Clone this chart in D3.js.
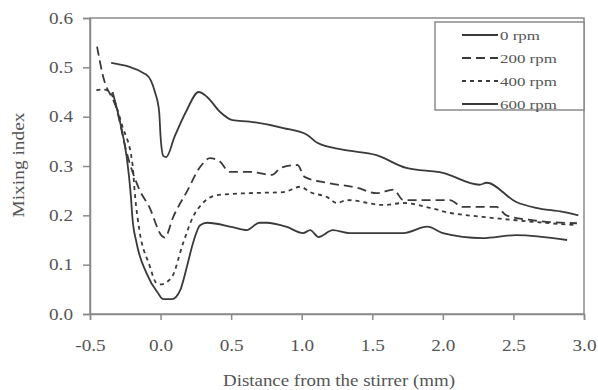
<!DOCTYPE html>
<html><head><meta charset="utf-8">
<script src="https://cdn.jsdelivr.net/npm/d3@7"></script>
<style>body{margin:0;background:#fff}</style>
</head><body>
<svg id="c" width="598" height="390"></svg>
<script>
const seriesNames = ["0 rpm", "200 rpm", "400 rpm", "600 rpm"];
const rpm0 = [[-0.35,0.509],[-0.10,0.485],[-0.04,0.45],[-0.01,0.41],[0.0,0.36],[0.02,0.32],[0.04,0.318],[0.10,0.36],[0.18,0.41],[0.27,0.45],[0.33,0.44],[0.42,0.41],[0.51,0.393],[0.63,0.39],[0.87,0.377],[1.04,0.363],[1.11,0.347],[1.29,0.333],[1.53,0.322],[1.74,0.296],[2.0,0.286],[2.26,0.262],[2.31,0.266],[2.52,0.227],[2.66,0.215],[2.85,0.207],[2.96,0.20]];
const rpm200 = [[-0.45,0.542],[-0.41,0.485],[-0.31,0.414],[-0.24,0.327],[-0.15,0.252],[-0.08,0.217],[0.01,0.158],[0.03,0.155],[0.09,0.197],[0.19,0.25],[0.28,0.298],[0.35,0.316],[0.42,0.309],[0.49,0.288],[0.63,0.288],[0.79,0.282],[0.85,0.296],[0.97,0.302],[1.02,0.278],[1.18,0.266],[1.39,0.256],[1.53,0.245],[1.65,0.252],[1.72,0.231],[1.91,0.231],[2.05,0.231],[2.14,0.217],[2.28,0.217],[2.38,0.217],[2.45,0.20],[2.64,0.19],[2.95,0.184]];
const rpm400 = [[-0.455,0.454],[-0.40,0.455],[-0.36,0.45],[-0.27,0.38],[-0.20,0.306],[-0.18,0.237],[-0.15,0.17],[-0.08,0.10],[-0.03,0.063],[0.0,0.060],[0.08,0.075],[0.16,0.144],[0.23,0.197],[0.30,0.225],[0.40,0.241],[0.63,0.245],[0.87,0.247],[0.99,0.258],[1.06,0.247],[1.18,0.237],[1.25,0.225],[1.32,0.231],[1.58,0.221],[1.72,0.225],[1.91,0.215],[2.05,0.205],[2.28,0.197],[2.52,0.19],[2.76,0.184],[2.95,0.18]];
const rpm600 = [[-0.34,0.45],[-0.28,0.38],[-0.24,0.318],[-0.21,0.237],[-0.20,0.197],[-0.17,0.144],[-0.10,0.083],[-0.02,0.043],[0.02,0.030],[0.08,0.030],[0.14,0.049],[0.19,0.10],[0.23,0.144],[0.28,0.18],[0.33,0.185],[0.51,0.176],[0.61,0.17],[0.70,0.185],[0.75,0.185],[0.89,0.177],[1.01,0.164],[1.06,0.17],[1.12,0.156],[1.22,0.17],[1.34,0.164],[1.58,0.164],[1.72,0.164],[1.89,0.177],[2.0,0.164],[2.28,0.154],[2.52,0.16],[2.88,0.15]];
const xTicks = [-0.5,0.0,0.5,1.0,1.5,2.0,2.5,3.0];
const yTicks = [0.0,0.1,0.2,0.3,0.4,0.5,0.6];
const dashes = [null, "9,5", "4,4", null];

const svg = d3.select("#c");
const L = 90, R = 584, T = 18, B = 314;
const x = d3.scaleLinear().domain([-0.5, 3.0]).range([L, R]);
const y = d3.scaleLinear().domain([0, 0.6]).range([B, T]);
const font = "'Liberation Serif','Times New Roman',serif";
const axisCol = "#8a8a8a", textCol = "#555";
const fmt = d => d.toFixed(1);

function stretch(sel, f) {
  sel.each(function () {
    const w = this.getComputedTextLength();
    d3.select(this).attr("textLength", w * f).attr("lengthAdjust", "spacingAndGlyphs");
  });
}

// frame
svg.append("rect").attr("x", L).attr("y", T).attr("width", R - L).attr("height", B - T)
  .attr("fill", "none").attr("stroke", axisCol).attr("stroke-width", 1.5);

const xa = svg.append("g").attr("transform", `translate(0,${B})`)
  .call(d3.axisBottom(x).tickValues(xTicks).tickFormat(fmt).tickSize(6).tickPadding(20));
const ya = svg.append("g").attr("transform", `translate(${L},0)`)
  .call(d3.axisLeft(y).tickValues(yTicks).tickFormat(fmt).tickSize(7).tickPadding(10));
[xa, ya].forEach(g => {
  g.select(".domain").attr("stroke", axisCol).attr("stroke-width", 1.5);
  g.selectAll(".tick line").attr("stroke", axisCol).attr("stroke-width", 1.5);
  g.selectAll("text").attr("font-family", font).attr("font-size", 16).attr("fill", textCol);
  stretch(g.selectAll("text"), 1.2);
});

const line = d3.line().x(d => x(d[0])).y(d => y(d[1])).curve(d3.curveMonotoneX);
[rpm0, rpm200, rpm400, rpm600].forEach((s, i) => {
  svg.append("path").datum(s).attr("d", line).attr("fill", "none")
    .attr("stroke", "#3a3a3a").attr("stroke-width", 1.8)
    .attr("stroke-dasharray", dashes[i]);
});

// legend
const lg = svg.append("g");
lg.append("rect").attr("x", 435).attr("y", 22).attr("width", 149).attr("height", 88)
  .attr("fill", "#fff").attr("stroke", axisCol).attr("stroke-width", 1.5);
seriesNames.forEach((n, i) => {
  const yy = 35 + i * 23;
  lg.append("line").attr("x1", 462).attr("x2", 498).attr("y1", yy).attr("y2", yy)
    .attr("stroke", "#3a3a3a").attr("stroke-width", 1.8).attr("stroke-dasharray", dashes[i]);
  const t = lg.append("text").attr("x", 500).attr("y", yy + 4.5).text(n)
    .attr("font-family", font).attr("font-size", 13).attr("fill", textCol);
  stretch(t, 1.3);
});

svg.append("text").attr("x", (L + R) / 2 + 2).attr("y", 386).attr("text-anchor", "middle")
  .attr("font-family", font).attr("font-size", 17).attr("fill", textCol)
  .attr("textLength", 232).attr("lengthAdjust", "spacingAndGlyphs")
  .text("Distance from the stirrer (mm)");
svg.append("text").attr("transform", `translate(24,${(T + B) / 2 - 1}) rotate(-90)`)
  .attr("text-anchor", "middle").attr("font-family", font).attr("font-size", 17).attr("fill", textCol)
  .attr("textLength", 105).attr("lengthAdjust", "spacingAndGlyphs")
  .text("Mixing index");
</script>
</body></html>
